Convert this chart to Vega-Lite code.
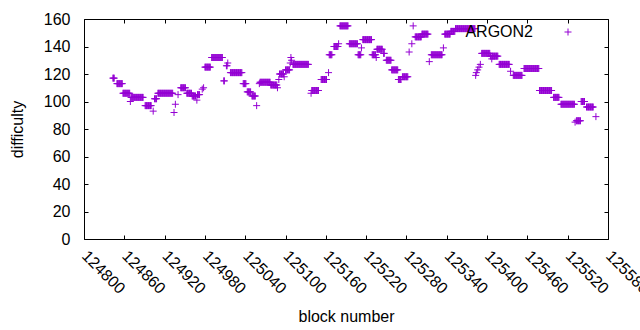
{
"$schema":"https://vega.github.io/schema/vega-lite/v6.json",
"width":524,"height":220,
"autosize":{"type":"none"},
"padding":{"left":84,"top":19,"right":32,"bottom":91},
"config":{"view":{"stroke":"#000","strokeWidth":1},"font":"Liberation Sans",
"axis":{"grid":false,"domain":false,"tickColor":"#000","labelColor":"#000","titleColor":"#000","labelFontSize":16,"titleFontSize":16,"titleFontWeight":"normal","tickSize":-4,"labelFont":"Liberation Sans","titleFont":"Liberation Sans"}},
"datasets":{"pts":[
{"b":124843,"d":117},{"b":124844,"d":117},{"b":124845,"d":117},
{"b":124849,"d":113},{"b":124850,"d":113},{"b":124851,"d":113},{"b":124852,"d":113},{"b":124853,"d":113},{"b":124854,"d":113},{"b":124855,"d":113},{"b":124856,"d":113},{"b":124857,"d":113},
{"b":124858,"d":106},{"b":124859,"d":106},{"b":124860,"d":106},{"b":124861,"d":106},{"b":124862,"d":106},{"b":124863,"d":106},{"b":124864,"d":106},{"b":124865,"d":106},{"b":124866,"d":106},{"b":124867,"d":106},{"b":124868,"d":106},
{"b":124869,"d":100},
{"b":124870,"d":103},{"b":124871,"d":103},{"b":124872,"d":103},{"b":124873,"d":103},{"b":124874,"d":103},{"b":124875,"d":103},{"b":124876,"d":103},{"b":124877,"d":103},{"b":124878,"d":103},{"b":124879,"d":103},{"b":124880,"d":103},{"b":124881,"d":103},{"b":124882,"d":103},{"b":124883,"d":103},{"b":124884,"d":103},{"b":124885,"d":103},{"b":124886,"d":103},{"b":124887,"d":103},{"b":124888,"d":103},
{"b":124891,"d":97},{"b":124892,"d":97},{"b":124893,"d":97},{"b":124894,"d":97},{"b":124895,"d":97},{"b":124896,"d":97},{"b":124897,"d":97},{"b":124898,"d":97},{"b":124899,"d":97},{"b":124900,"d":97},
{"b":124903,"d":93},
{"b":124905,"d":102},{"b":124906,"d":102},{"b":124907,"d":102},{"b":124908,"d":102},
{"b":124910,"d":106},{"b":124911,"d":106},{"b":124912,"d":106},{"b":124913,"d":106},{"b":124914,"d":106},{"b":124915,"d":106},{"b":124916,"d":106},{"b":124917,"d":106},{"b":124918,"d":106},{"b":124919,"d":106},{"b":124920,"d":106},{"b":124921,"d":106},{"b":124922,"d":106},{"b":124923,"d":106},{"b":124924,"d":106},{"b":124925,"d":106},{"b":124926,"d":106},{"b":124927,"d":106},{"b":124928,"d":106},{"b":124929,"d":106},{"b":124930,"d":106},{"b":124931,"d":106},{"b":124932,"d":106},
{"b":124934,"d":92},{"b":124936,"d":98},{"b":124940,"d":105},
{"b":124944,"d":110},{"b":124945,"d":110},{"b":124946,"d":110},{"b":124947,"d":110},{"b":124948,"d":110},{"b":124949,"d":110},{"b":124950,"d":110},{"b":124951,"d":110},
{"b":124953,"d":106},{"b":124954,"d":106},{"b":124955,"d":106},{"b":124956,"d":106},{"b":124957,"d":106},{"b":124958,"d":106},{"b":124959,"d":106},{"b":124960,"d":106},
{"b":124961,"d":104},{"b":124962,"d":104},{"b":124963,"d":104},{"b":124964,"d":104},{"b":124965,"d":104},{"b":124966,"d":104},
{"b":124968,"d":101},
{"b":124969,"d":105},{"b":124970,"d":105},{"b":124971,"d":105},{"b":124972,"d":105},
{"b":124976,"d":109},{"b":124978,"d":110},
{"b":124980,"d":125},{"b":124981,"d":125},{"b":124982,"d":125},{"b":124983,"d":125},{"b":124984,"d":125},{"b":124985,"d":125},{"b":124986,"d":125},{"b":124987,"d":125},{"b":124988,"d":125},
{"b":124990,"d":132},{"b":124991,"d":132},{"b":124992,"d":132},{"b":124993,"d":132},{"b":124994,"d":132},{"b":124995,"d":132},{"b":124996,"d":132},{"b":124997,"d":132},{"b":124998,"d":132},{"b":124999,"d":132},{"b":125000,"d":132},{"b":125001,"d":132},{"b":125002,"d":132},{"b":125003,"d":132},{"b":125004,"d":132},{"b":125005,"d":132},{"b":125006,"d":132},
{"b":125008,"d":115},{"b":125009,"d":115},
{"b":125012,"d":126},{"b":125013,"d":126},{"b":125014,"d":128},
{"b":125018,"d":121},{"b":125019,"d":121},{"b":125020,"d":121},{"b":125021,"d":121},{"b":125022,"d":121},{"b":125023,"d":121},{"b":125024,"d":121},{"b":125025,"d":121},{"b":125026,"d":121},{"b":125027,"d":121},{"b":125028,"d":121},{"b":125029,"d":121},{"b":125030,"d":121},{"b":125031,"d":121},{"b":125032,"d":121},{"b":125033,"d":121},{"b":125034,"d":121},{"b":125035,"d":121},
{"b":125037,"d":113},{"b":125038,"d":113},{"b":125039,"d":113},{"b":125040,"d":113},{"b":125041,"d":113},
{"b":125043,"d":107},{"b":125044,"d":107},{"b":125045,"d":107},{"b":125046,"d":107},{"b":125047,"d":107},{"b":125048,"d":107},
{"b":125050,"d":104},{"b":125051,"d":104},{"b":125052,"d":104},{"b":125053,"d":104},{"b":125054,"d":104},{"b":125055,"d":104},
{"b":125057,"d":97},{"b":125061,"d":113},
{"b":125062,"d":114},{"b":125063,"d":114},{"b":125064,"d":114},{"b":125065,"d":114},{"b":125066,"d":114},{"b":125067,"d":114},{"b":125068,"d":114},{"b":125069,"d":114},{"b":125070,"d":114},{"b":125071,"d":114},{"b":125072,"d":114},{"b":125073,"d":114},{"b":125074,"d":114},{"b":125075,"d":114},{"b":125076,"d":114},{"b":125077,"d":114},
{"b":125078,"d":112},{"b":125079,"d":112},{"b":125080,"d":112},{"b":125081,"d":112},{"b":125082,"d":112},{"b":125083,"d":112},{"b":125084,"d":112},{"b":125085,"d":112},{"b":125086,"d":112},{"b":125087,"d":112},
{"b":125088,"d":110},{"b":125090,"d":116},
{"b":125091,"d":120},{"b":125092,"d":120},{"b":125093,"d":120},{"b":125094,"d":120},{"b":125095,"d":120},{"b":125096,"d":120},{"b":125097,"d":120},
{"b":125098,"d":118},
{"b":125100,"d":123},{"b":125101,"d":123},{"b":125102,"d":123},{"b":125103,"d":123},{"b":125104,"d":123},{"b":125105,"d":123},{"b":125106,"d":123},
{"b":125107,"d":128},{"b":125108,"d":132},{"b":125109,"d":130},
{"b":125111,"d":127},{"b":125112,"d":127},{"b":125113,"d":127},{"b":125114,"d":127},{"b":125115,"d":127},{"b":125116,"d":127},{"b":125117,"d":127},{"b":125118,"d":127},{"b":125119,"d":127},{"b":125120,"d":127},{"b":125121,"d":127},{"b":125122,"d":127},{"b":125123,"d":127},{"b":125124,"d":127},{"b":125125,"d":127},{"b":125126,"d":127},{"b":125127,"d":127},{"b":125128,"d":127},{"b":125129,"d":127},{"b":125130,"d":127},{"b":125131,"d":127},{"b":125132,"d":127},{"b":125133,"d":127},{"b":125134,"d":127},
{"b":125138,"d":106},
{"b":125139,"d":108},{"b":125140,"d":108},{"b":125141,"d":108},{"b":125142,"d":108},{"b":125143,"d":108},{"b":125144,"d":108},{"b":125145,"d":108},{"b":125146,"d":108},{"b":125147,"d":108},{"b":125148,"d":108},{"b":125149,"d":108},
{"b":125153,"d":116},{"b":125154,"d":116},{"b":125155,"d":116},{"b":125156,"d":116},{"b":125157,"d":116},{"b":125158,"d":116},{"b":125159,"d":116},{"b":125160,"d":116},{"b":125161,"d":116},
{"b":125164,"d":121},
{"b":125165,"d":134},{"b":125166,"d":134},{"b":125167,"d":134},{"b":125168,"d":134},{"b":125169,"d":134},
{"b":125172,"d":140},{"b":125173,"d":140},{"b":125174,"d":140},{"b":125175,"d":140},{"b":125176,"d":140},{"b":125177,"d":140},{"b":125178,"d":140},
{"b":125179,"d":142},
{"b":125181,"d":155},{"b":125182,"d":155},{"b":125183,"d":155},{"b":125184,"d":155},{"b":125185,"d":155},{"b":125186,"d":155},{"b":125187,"d":155},{"b":125188,"d":155},{"b":125189,"d":155},{"b":125190,"d":155},{"b":125191,"d":155},{"b":125192,"d":155},{"b":125193,"d":155},
{"b":125195,"d":142},{"b":125196,"d":142},{"b":125197,"d":142},{"b":125198,"d":142},{"b":125199,"d":142},{"b":125200,"d":142},{"b":125201,"d":142},{"b":125202,"d":142},{"b":125203,"d":142},{"b":125204,"d":142},{"b":125205,"d":142},{"b":125206,"d":142},{"b":125207,"d":142},
{"b":125208,"d":134},{"b":125209,"d":134},{"b":125210,"d":134},{"b":125211,"d":134},{"b":125212,"d":134},
{"b":125213,"d":139},
{"b":125215,"d":145},{"b":125216,"d":145},{"b":125217,"d":145},{"b":125218,"d":145},{"b":125219,"d":145},{"b":125220,"d":145},{"b":125221,"d":145},{"b":125222,"d":145},{"b":125223,"d":145},{"b":125224,"d":145},{"b":125225,"d":145},{"b":125226,"d":145},{"b":125227,"d":145},{"b":125228,"d":145},
{"b":125229,"d":134},{"b":125230,"d":134},{"b":125231,"d":134},{"b":125232,"d":134},{"b":125233,"d":134},{"b":125234,"d":134},
{"b":125235,"d":132},
{"b":125236,"d":138},{"b":125237,"d":138},{"b":125238,"d":138},{"b":125239,"d":138},{"b":125240,"d":138},{"b":125241,"d":138},{"b":125242,"d":138},{"b":125243,"d":138},{"b":125244,"d":138},
{"b":125246,"d":135},{"b":125247,"d":135},
{"b":125250,"d":130},{"b":125251,"d":130},{"b":125252,"d":130},{"b":125253,"d":130},{"b":125254,"d":130},{"b":125255,"d":130},{"b":125256,"d":130},{"b":125257,"d":130},
{"b":125258,"d":123},{"b":125259,"d":123},{"b":125260,"d":123},{"b":125261,"d":123},{"b":125262,"d":123},{"b":125263,"d":123},{"b":125264,"d":123},{"b":125265,"d":123},{"b":125266,"d":123},{"b":125267,"d":123},
{"b":125268,"d":116},{"b":125269,"d":116},{"b":125270,"d":116},{"b":125271,"d":116},{"b":125272,"d":116},
{"b":125274,"d":118},{"b":125275,"d":118},{"b":125276,"d":118},{"b":125277,"d":118},{"b":125278,"d":118},{"b":125279,"d":118},{"b":125280,"d":118},{"b":125281,"d":118},{"b":125282,"d":118},
{"b":125284,"d":136},{"b":125288,"d":142},{"b":125290,"d":155},
{"b":125293,"d":147},{"b":125294,"d":147},{"b":125295,"d":147},{"b":125296,"d":147},{"b":125297,"d":147},{"b":125298,"d":147},{"b":125299,"d":147},{"b":125300,"d":147},{"b":125301,"d":147},{"b":125302,"d":147},
{"b":125303,"d":149},{"b":125304,"d":149},{"b":125305,"d":149},{"b":125306,"d":149},{"b":125307,"d":149},{"b":125308,"d":149},{"b":125309,"d":149},{"b":125310,"d":149},{"b":125311,"d":149},{"b":125312,"d":149},
{"b":125314,"d":129},
{"b":125317,"d":134},{"b":125318,"d":134},{"b":125319,"d":134},{"b":125320,"d":134},{"b":125321,"d":134},{"b":125322,"d":134},{"b":125323,"d":134},{"b":125324,"d":134},{"b":125325,"d":134},{"b":125326,"d":134},{"b":125327,"d":134},{"b":125328,"d":134},{"b":125329,"d":134},{"b":125330,"d":134},{"b":125331,"d":134},{"b":125332,"d":134},{"b":125333,"d":134},
{"b":125335,"d":139},
{"b":125337,"d":149},{"b":125338,"d":149},{"b":125339,"d":149},{"b":125340,"d":149},{"b":125341,"d":149},{"b":125342,"d":149},{"b":125343,"d":149},{"b":125344,"d":149},{"b":125345,"d":149},
{"b":125346,"d":151},{"b":125347,"d":151},{"b":125348,"d":151},{"b":125349,"d":151},{"b":125350,"d":151},{"b":125351,"d":151},{"b":125352,"d":151},
{"b":125353,"d":153},{"b":125354,"d":153},{"b":125355,"d":153},{"b":125356,"d":153},{"b":125357,"d":153},{"b":125358,"d":153},{"b":125359,"d":153},{"b":125360,"d":153},{"b":125361,"d":153},{"b":125362,"d":153},{"b":125363,"d":153},{"b":125364,"d":153},{"b":125365,"d":153},{"b":125366,"d":153},{"b":125367,"d":153},{"b":125368,"d":153},{"b":125369,"d":153},{"b":125370,"d":153},{"b":125371,"d":153},{"b":125372,"d":153},{"b":125373,"d":153},{"b":125374,"d":153},{"b":125375,"d":153},{"b":125376,"d":153},{"b":125377,"d":153},{"b":125378,"d":153},{"b":125379,"d":153},{"b":125380,"d":153},{"b":125381,"d":153},{"b":125382,"d":153},
{"b":125383,"d":119},{"b":125384,"d":121},{"b":125386,"d":123},{"b":125388,"d":125},{"b":125390,"d":127},
{"b":125392,"d":135},{"b":125393,"d":135},{"b":125394,"d":135},{"b":125395,"d":135},{"b":125396,"d":135},{"b":125397,"d":135},{"b":125398,"d":135},{"b":125399,"d":135},{"b":125400,"d":135},{"b":125401,"d":135},{"b":125402,"d":135},{"b":125403,"d":135},{"b":125404,"d":135},
{"b":125405,"d":133},{"b":125406,"d":133},{"b":125407,"d":131},{"b":125408,"d":133},{"b":125409,"d":133},{"b":125410,"d":133},{"b":125411,"d":133},{"b":125412,"d":133},{"b":125413,"d":133},{"b":125414,"d":133},{"b":125415,"d":133},{"b":125416,"d":133},
{"b":125418,"d":127},{"b":125419,"d":127},{"b":125420,"d":127},{"b":125421,"d":127},{"b":125422,"d":127},{"b":125423,"d":127},{"b":125424,"d":127},{"b":125425,"d":127},{"b":125426,"d":127},{"b":125427,"d":127},{"b":125428,"d":127},{"b":125429,"d":127},{"b":125430,"d":127},{"b":125431,"d":127},{"b":125432,"d":127},{"b":125433,"d":127},
{"b":125435,"d":122},
{"b":125439,"d":119},{"b":125440,"d":119},{"b":125441,"d":119},{"b":125442,"d":119},{"b":125443,"d":119},{"b":125444,"d":119},{"b":125445,"d":119},{"b":125446,"d":119},{"b":125447,"d":119},{"b":125448,"d":119},{"b":125449,"d":119},{"b":125450,"d":119},{"b":125451,"d":119},{"b":125452,"d":119},
{"b":125455,"d":124},{"b":125456,"d":124},{"b":125457,"d":124},{"b":125458,"d":124},{"b":125459,"d":124},{"b":125460,"d":124},{"b":125461,"d":124},{"b":125462,"d":124},{"b":125463,"d":124},{"b":125464,"d":124},{"b":125465,"d":124},{"b":125466,"d":124},{"b":125467,"d":124},{"b":125468,"d":124},{"b":125469,"d":124},{"b":125470,"d":124},{"b":125471,"d":124},{"b":125472,"d":124},{"b":125473,"d":124},{"b":125474,"d":124},{"b":125475,"d":124},{"b":125476,"d":124},{"b":125477,"d":124},
{"b":125478,"d":108},{"b":125479,"d":108},{"b":125480,"d":108},{"b":125481,"d":108},{"b":125482,"d":108},{"b":125483,"d":108},{"b":125484,"d":108},{"b":125485,"d":108},{"b":125486,"d":108},{"b":125487,"d":108},{"b":125488,"d":108},{"b":125489,"d":108},{"b":125490,"d":108},{"b":125491,"d":108},{"b":125492,"d":108},{"b":125493,"d":108},{"b":125494,"d":108},{"b":125495,"d":108},{"b":125496,"d":108},
{"b":125499,"d":103},{"b":125500,"d":103},{"b":125501,"d":103},{"b":125502,"d":103},{"b":125503,"d":103},{"b":125504,"d":103},{"b":125505,"d":103},{"b":125506,"d":103},{"b":125507,"d":103},
{"b":125510,"d":98},{"b":125511,"d":98},{"b":125512,"d":98},{"b":125513,"d":98},{"b":125514,"d":98},{"b":125515,"d":98},{"b":125516,"d":98},{"b":125517,"d":98},{"b":125518,"d":98},{"b":125519,"d":98},{"b":125520,"d":98},{"b":125521,"d":98},{"b":125522,"d":98},{"b":125523,"d":98},{"b":125524,"d":98},{"b":125525,"d":98},{"b":125526,"d":98},{"b":125527,"d":98},{"b":125528,"d":98},{"b":125529,"d":98},{"b":125530,"d":98},
{"b":125531,"d":85},
{"b":125533,"d":86},{"b":125534,"d":86},{"b":125535,"d":86},{"b":125536,"d":86},{"b":125537,"d":86},{"b":125538,"d":86},{"b":125539,"d":86},
{"b":125540,"d":100},{"b":125541,"d":100},{"b":125542,"d":100},{"b":125543,"d":100},{"b":125544,"d":100},{"b":125545,"d":100},
{"b":125548,"d":96},{"b":125549,"d":96},{"b":125550,"d":96},{"b":125551,"d":96},{"b":125552,"d":96},{"b":125553,"d":96},{"b":125554,"d":96},{"b":125555,"d":96},{"b":125556,"d":96},{"b":125557,"d":96},{"b":125558,"d":96},
{"b":125562,"d":89}
]},
"layer":[
{"data":{"name":"pts"},
"mark":{"type":"point","shape":"M-1,0H1M0,-1V1","size":49,"strokeWidth":1,"filled":false,"opacity":1},
"encoding":{
"x":{"field":"b","type":"quantitative","scale":{"domain":[124800,125580],"nice":false,"zero":false},
"axis":{"orient":"bottom","values":[124800,124860,124920,124980,125040,125100,125160,125220,125280,125340,125400,125460,125520,125580],"format":"d","labelAngle":45,"labelAlign":"left","labelBaseline":"middle","labelPadding":18,"labelFlush":false,"labelOverlap":false,"title":"block number","titleY":82,"titleBaseline":"alphabetic"}},
"y":{"field":"d","type":"quantitative","scale":{"domain":[0,160],"nice":false},
"axis":{"orient":"left","values":[0,20,40,60,80,100,120,140,160],"labelPadding":18,"labelFlush":false,"title":"difficulty","titleX":-62,"titleY":110,"titleAlign":"center","titleBaseline":"alphabetic","titleAngle":270}},
"color":{"datum":"ARGON2","type":"nominal","scale":{"range":["#9400d3"]},
"legend":{"title":null,"orient":"none","legendX":476,"legendY":5,"padding":0,"labelFontSize":16,"labelFont":"Liberation Sans","labelColor":"#000","labelAlign":"right","labelOffset":-43,"symbolType":"M-1,0H1M0,-1V1","symbolSize":49,"symbolStrokeWidth":1,"symbolFillColor":"transparent"}}}},
{"data":{"name":"pts"},
"mark":{"type":"point","opacity":0},
"encoding":{
"x":{"field":"b","type":"quantitative","scale":{"domain":[124800,125580],"nice":false,"zero":false},
"axis":{"orient":"top","values":[124800,124860,124920,124980,125040,125100,125160,125220,125280,125340,125400,125460,125520,125580],"labels":false,"title":null}},
"y":{"field":"d","type":"quantitative","scale":{"domain":[0,160],"nice":false},
"axis":{"orient":"right","values":[0,20,40,60,80,100,120,140,160],"labels":false,"title":null}}}}
],
"resolve":{"axis":{"x":"independent","y":"independent"}}
}
